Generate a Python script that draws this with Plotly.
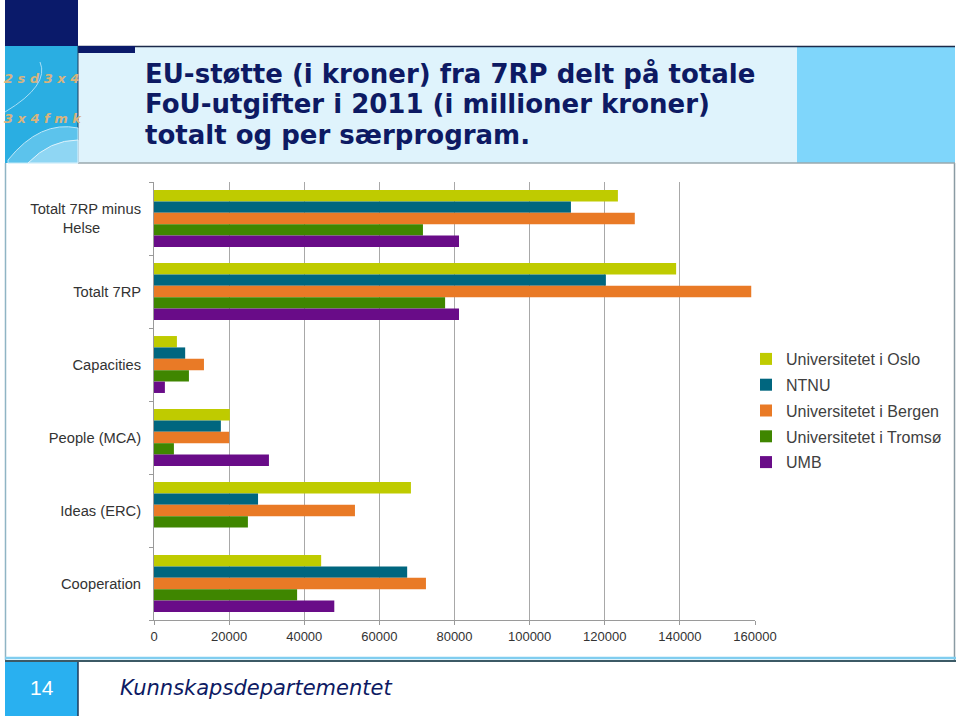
import plotly.graph_objects as go

categories = ["Totalt 7RP minus Helse", "Totalt 7RP", "Capacities", "People (MCA)", "Ideas (ERC)", "Cooperation"]
tick_labels = ["Totalt 7RP minus<br>Helse" + "\u00a0" * 10, "Totalt 7RP", "Capacities", "People (MCA)", "Ideas (ERC)", "Cooperation"]
series_names = ["Universitetet i Oslo", "NTNU", "Universitetet i Bergen", "Universitetet i Tromsø", "UMB"]
oslo = [123500, 139000, 6100, 20200, 68400, 44500]
ntnu = [111000, 120300, 8300, 17800, 27700, 67400]
bergen = [128000, 159000, 13300, 20000, 53500, 72400]
tromso = [71600, 77500, 9300, 5300, 25000, 38100]
umb = [81200, 81200, 2900, 30600, None, 48000]
x_ticks = [0, 20000, 40000, 60000, 80000, 100000, 120000, 140000, 160000]
colors = ["#bfcb00", "#00667f", "#e97a26", "#3f8600", "#690c88"]

W, H = 960, 716
L, R, T, B = 154, 755, 182, 620


def px(x):
    return (x - L) / (R - L)


def py(y):
    return (B - y) / (B - T)


fig = go.Figure()
for name, vals, col in zip(series_names, [oslo, ntnu, bergen, tromso, umb], colors):
    fig.add_trace(go.Bar(
        y=categories, x=vals, name=name, orientation="h",
        marker=dict(color=col, line=dict(width=0)),
        legendgroup=name,
    ))

shapes = []


def rect(x0, y0, x1, y1, fill, line=None, lw=0):
    shapes.append(dict(type="rect", xref="paper", yref="paper",
                       x0=px(x0), x1=px(x1), y0=py(y1), y1=py(y0),
                       fillcolor=fill, line=dict(color=line or fill, width=lw), layer="below"))


def hline(x0, x1, y, col, w=1):
    shapes.append(dict(type="line", xref="paper", yref="paper",
                       x0=px(x0), x1=px(x1), y0=py(y), y1=py(y),
                       line=dict(color=col, width=w), layer="below"))


def vline(x, y0, y1, col, w=1):
    shapes.append(dict(type="line", xref="paper", yref="paper",
                       x0=px(x), x1=px(x), y0=py(y0), y1=py(y1),
                       line=dict(color=col, width=w), layer="below"))


# chart box
rect(5, 163, 955, 660, "white")
vline(5.5, 163, 660, "#8fb4c4", 1.5)
vline(954.5, 163, 660, "#8a9ba3", 1.5)
hline(5, 956, 658, "#80cdef", 2.5)
hline(5, 956, 661, "#3c5a66", 2)
# title band
rect(78, 46, 797, 163, "#dff3fc")
rect(797, 46, 955, 163, "#7fd6fb")
hline(78, 955, 46.5, "#1b2a4a", 1.5)
hline(78, 955, 163, "#9aa8ae", 1.5)
rect(78, 46, 135, 53, "#0a1a6a")
# logo area
rect(5, 0, 78, 46, "#0a1a6a")
rect(5, 46, 78, 163, "#2aaee2")
vline(78, 46, 163, "#1d3a5a", 1)
shapes.append(dict(type="path", xref="paper", yref="paper",
                   path=f"M {px(8)},{py(160)} Q {px(40)},{py(120)} {px(78)},{py(128)} L {px(78)},{py(163)} L {px(8)},{py(163)} Z",
                   fillcolor="#5cc3ec", line=dict(color="#bfe8f8", width=1), layer="below"))
shapes.append(dict(type="path", xref="paper", yref="paper",
                   path=f"M {px(28)},{py(163)} Q {px(50)},{py(140)} {px(78)},{py(140)} L {px(78)},{py(163)} Z",
                   fillcolor="#8fd6f3", line=dict(color="#dff3fc", width=1), layer="below"))
shapes.append(dict(type="path", xref="paper", yref="paper",
                   path=f"M {px(5)},{py(112)} Q {px(50)},{py(85)} {px(40)},{py(62)}",
                   line=dict(color="#a8def5", width=1), layer="below"))
# footer
rect(5, 662, 78, 716, "#29b0f0")
vline(78, 662, 716, "#1d3a5a", 1.5)

annotations = []
title_lines = ["EU-støtte (i kroner) fra 7RP delt på totale",
               "FoU-utgifter i 2011 (i millioner kroner)",
               "totalt og per særprogram."]
for i, t in enumerate(title_lines):
    annotations.append(dict(text=t, xref="paper", yref="paper", x=px(143), y=py(73 + 31 * i),
                            xanchor="left", yanchor="middle", showarrow=False,
                            font=dict(family="DejaVu Sans", size=26, color="#0d1a63", weight="bold")))
annotations.append(dict(text="<i>Kunnskapsdepartementet</i>", xref="paper", yref="paper", x=px(118), y=py(688),
                        xanchor="left", yanchor="middle", showarrow=False,
                        font=dict(family="DejaVu Sans", size=21, color="#0d1a63")))
annotations.append(dict(text="14", xref="paper", yref="paper", x=px(41.5), y=py(687),
                        xanchor="center", yanchor="middle", showarrow=False,
                        font=dict(family="Liberation Sans", size=21, color="white")))
for t, yy in [("<b><i>2 s d 3 x 4</i></b>", 78), ("<b><i>3 x 4 f m k</i></b>", 118)]:
    annotations.append(dict(text=t, xref="paper", yref="paper", x=px(2), y=py(yy),
                            xanchor="left", yanchor="middle", showarrow=False,
                            font=dict(family="DejaVu Sans", size=13, color="#d8b47e")))

fig.update_layout(
    width=W, height=H, autosize=False,
    margin=dict(l=L, r=W - R, t=T, b=H - B, pad=0, autoexpand=False),
    paper_bgcolor="white", plot_bgcolor="rgba(0,0,0,0)",
    barmode="group", bargap=0.22, bargroupgap=0,
    showlegend=True,
    legend=dict(x=px(746), y=py(342), xanchor="left", yanchor="top",
                font=dict(family="Liberation Sans", size=16, color="#404040"),
                traceorder="grouped", tracegroupgap=2, itemwidth=30,
                bgcolor="rgba(0,0,0,0)"),
    shapes=shapes, annotations=annotations,
    font=dict(family="Liberation Sans", color="#333333"),
)
fig.update_xaxes(range=[0, 160000], tickvals=x_ticks, ticktext=[str(v) for v in x_ticks],
                 showgrid=True, gridcolor="#a8a8a8", gridwidth=1, zeroline=False,
                 showline=True, linecolor="#9a9a9a", linewidth=1,
                 ticks="outside", ticklen=4, tickcolor="#9a9a9a", automargin=False,
                 tickfont=dict(family="Liberation Sans", size=13, color="#333333"))
fig.update_yaxes(categoryorder="array", categoryarray=categories, autorange="reversed",
                 tickvals=categories, ticktext=tick_labels, automargin=False,
                 showgrid=False, zeroline=False, showline=True, linecolor="#9a9a9a", linewidth=1,
                 ticks="outside", ticklen=4, tickcolor="#9a9a9a", tickson="boundaries",
                 ticklabelstandoff=9,
                 tickfont=dict(family="Liberation Sans", size=14.7, color="#333333"))

fig.write_html("out.html",
               config={"displayModeBar": False, "responsive": False},
               post_script="document.body.style.margin='0';document.body.style.overflow='hidden';document.documentElement.style.overflow='hidden';")
